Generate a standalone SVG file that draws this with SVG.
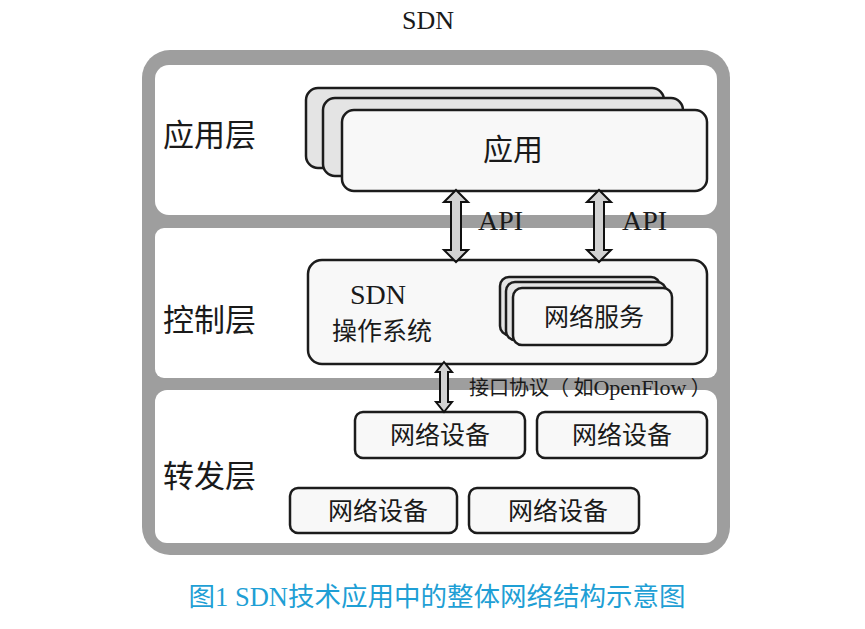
<svg xmlns="http://www.w3.org/2000/svg" width="865" height="629" viewBox="0 0 865 629">
<style>
.cjk{font-family:"Noto Sans CJK SC","Noto Sans",sans-serif;fill:#1a1a1a}
.ser{font-family:"Liberation Serif","Noto Sans CJK SC",serif;fill:#1a1a1a}
.layer{fill:#ffffff}
.box{fill:#f8f8f8;stroke:#1c1c1c;stroke-width:2.5}
.back{fill:#e4e4e4;stroke:#1c1c1c;stroke-width:2.5}
.arrow{fill:#d2d2d2;stroke:#111;stroke-width:2;stroke-linejoin:miter}
.cap{font-family:"Noto Sans CJK SC",sans-serif;fill:#1f9fd5}
.capser{font-family:"Liberation Serif",serif;fill:#1f9fd5}
</style>
<rect width="865" height="629" fill="#ffffff"/>
<text class="ser" x="428" y="29" font-size="26" text-anchor="middle">SDN</text>

<g id="frame">
<rect x="142" y="50" width="588" height="505" rx="28" fill="#9e9e9e"/>
<rect class="layer" x="155" y="65" width="562" height="150" rx="14"/>
<rect class="layer" x="155" y="228" width="562" height="150" rx="9"/>
<rect class="layer" x="155" y="390" width="562" height="153" rx="12"/>
</g>

<g id="layer-app">
<text class="cjk" x="163" y="146" font-size="31">应用层</text>
</g>
<g id="layer-ctrl">
<text class="cjk" x="163" y="331" font-size="31">控制层</text>
</g>
<g id="layer-fwd">
<text class="cjk" x="163" y="487" font-size="31">转发层</text>
</g>

<g id="app">
<rect class="back" x="306" y="88" width="358" height="80" rx="12"/>
<rect class="back" x="323" y="98" width="360" height="78" rx="12"/>
<rect class="box" x="342" y="110" width="365" height="81" rx="12"/>
<text class="cjk" x="513" y="160" font-size="30" text-anchor="middle">应用</text>
</g>

<g id="sdn-os">
<rect class="box" x="308" y="260" width="399" height="104" rx="14"/>
<text class="ser" x="378" y="304" font-size="28" text-anchor="middle">SDN</text>
<text class="cjk" x="382" y="340" font-size="25" text-anchor="middle">操作系统</text>
</g>

<g id="net-service">
<rect class="back" x="500" y="277" width="160" height="58" rx="9"/>
<rect class="back" x="506" y="282" width="160" height="58" rx="9"/>
<rect class="box" x="513" y="288" width="159" height="57" rx="9"/>
<text class="cjk" x="594" y="326" font-size="25" text-anchor="middle">网络服务</text>
</g>

<g id="dev1">
<rect class="box" x="355" y="412" width="170" height="46" rx="8"/>
<text class="cjk" x="440" y="444" font-size="25" text-anchor="middle">网络设备</text>
</g>
<g id="dev2">
<rect class="box" x="537" y="412" width="170" height="46" rx="8"/>
<text class="cjk" x="622" y="444" font-size="25" text-anchor="middle">网络设备</text>
</g>
<g id="dev3">
<rect class="box" x="290" y="488" width="167" height="45" rx="8"/>
<text class="cjk" x="378" y="520" font-size="25" text-anchor="middle">网络设备</text>
</g>
<g id="dev4">
<rect class="box" x="469" y="488" width="170" height="45" rx="8"/>
<text class="cjk" x="558" y="520" font-size="25" text-anchor="middle">网络设备</text>
</g>

<g id="connectors">
<path class="arrow" d="M456,190 L468,202 L461,202 L461,250 L468,250 L456,262 L444,250 L451,250 L451,202 L444,202 Z"/>
<path class="arrow" d="M599,190 L611,202 L604,202 L604,250 L611,250 L599,262 L587,250 L594,250 L594,202 L587,202 Z"/>
<path class="arrow" d="M444,362 L452,372 L448,372 L448,402 L452,402 L444,412 L436,402 L440,402 L440,372 L436,372 Z"/>
<text class="ser" x="478" y="230" font-size="28">API</text>
<text class="ser" x="622" y="230" font-size="28">API</text>
<text class="cjk" x="469" y="395" font-size="20">接口协议（ 如<tspan class="ser" font-size="22">OpenFlow</tspan> ）</text>
</g>

<g id="caption">
<text class="cap" x="437" y="606" font-size="26.5" text-anchor="middle">图<tspan class="capser">1 SDN</tspan>技术应用中的整体网络结构示意图</text>
</g>
</svg>
